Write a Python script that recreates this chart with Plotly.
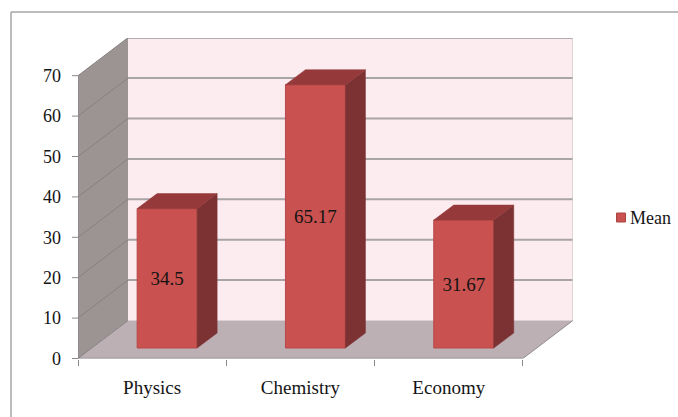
import plotly.graph_objects as go

categories = ["Physics", "Chemistry", "Economy"]
means = [34.5, 65.17, 31.67]
bar_labels = ["34.5", "65.17", "31.67"]
y_ticks = [0, 10, 20, 30, 40, 50, 60, 70]
series_name = "Mean"

W, H = 678, 417
L, R, T, B = 78, 573, 38, 358.5      # pixel box of the plotting area
PX_X = 148.3                         # pixels per category
PX_Y = 4.04                          # pixels per value unit
n = len(categories)
y_max = max(y_ticks)

wall_dx = 50 / PX_X
wall_dy = 38 / PX_Y
bar_dx = 15 / PX_X
bar_dy = 10.5 / PX_Y
bar_w = 60 / PX_X
side_dx = 20 / PX_X
side_dy = 15 / PX_Y

FRONT = "#c9514f"
TOP = "#95393a"
SIDE = "#7c3233"
WALL = "#fcebef"
LEFT = "#9c9393"
FLOOR = "#bcb0b5"
GRID = "#a9a4a6"
AXIS = "#8a8a8a"
TEXT = "#141414"
FONT = "Liberation Serif"

x_range = [0, (R - L) / PX_X]
y_range = [0, (B - T) / PX_Y]

fx = lambda px: px / W
fy = lambda px: 1 - px / H


def poly(xs, ys, color):
    path = "M" + " L".join(f"{x},{y}" for x, y in zip(xs, ys)) + " Z"
    return dict(type="path", path=path, xref="x", yref="y", fillcolor=color,
                line=dict(width=0), layer="below")


def seg(x0, y0, x1, y1, color, width):
    return dict(type="line", x0=x0, y0=y0, x1=x1, y1=y1, xref="x", yref="y",
                line=dict(color=color, width=width), layer="below")


shapes = [
    poly([wall_dx, n + wall_dx, n + wall_dx, wall_dx],
         [wall_dy, wall_dy, y_max + wall_dy, y_max + wall_dy], WALL),
    poly([0, wall_dx, wall_dx, 0], [0, wall_dy, y_max + wall_dy, y_max], LEFT),
    poly([0, n, n + wall_dx, wall_dx], [0, 0, wall_dy, wall_dy], FLOOR),
]
for t in y_ticks[1:]:
    shapes.append(seg(wall_dx, t + wall_dy, n + wall_dx, t + wall_dy, GRID, 2))
    shapes.append(seg(0, t, wall_dx, t + wall_dy, "#868082", 1))
for t in y_ticks:
    # y-axis tick marks: full paper coordinates so they are not clipped
    yp = fy(B - t * PX_Y)
    shapes.append(dict(type="line", xref="paper", yref="paper", x0=fx(L - 6), x1=fx(L),
                       y0=yp, y1=yp, line=dict(color=AXIS, width=1)))
shapes.append(seg(wall_dx, y_max + wall_dy, n + wall_dx, y_max + wall_dy, GRID, 1.5))
shapes.append(seg(n + wall_dx, wall_dy, n + wall_dx, y_max + wall_dy, "#c9c4c6", 1))
shapes.append(seg(0, 0, wall_dx, wall_dy, "#868082", 1))
shapes.append(seg(n, 0, n + wall_dx, wall_dy, "#8f8a8c", 1))
shapes.append(seg(0, 0, n, 0, AXIS, 1.5))
shapes.append(seg(0, 0, 0, y_max, AXIS, 1.5))

# outer chart frame and legend swatch, in paper coordinates
for a, b, c, d in [(11, 12, 11, H), (11, 12, W, 12)]:
    shapes.append(dict(type="line", xref="paper", yref="paper", x0=fx(a), y0=fy(b),
                       x1=fx(c), y1=fy(d), line=dict(color="#a6a6a6", width=1.5)))
shapes.append(dict(type="rect", xref="paper", yref="paper", x0=fx(616.5), x1=fx(625.5),
                   y0=fy(222), y1=fy(213), fillcolor=FRONT,
                   line=dict(color="#a84442", width=1)))

centres = [i + 0.5 + bar_dx for i in range(n)]

fig = go.Figure()
fig.add_trace(go.Bar(
    x=centres, y=means, base=[bar_dy] * n, width=bar_w, name=series_name,
    marker=dict(color=FRONT, line=dict(color="#b84a48", width=1)),
    text=bar_labels, textposition="inside", insidetextanchor="middle", textangle=0,
    insidetextfont=dict(family=FONT, size=19, color=TEXT), showlegend=False,
    hoverinfo="skip",
))
for c, v in zip(centres, means):
    x0, x1 = c - bar_w / 2, c + bar_w / 2
    top = v + bar_dy
    fig.add_trace(go.Scatter(
        x=[x1, x1 + side_dx, x1 + side_dx, x1, x1],
        y=[bar_dy, bar_dy + side_dy, top + side_dy, top, bar_dy],
        mode="lines", fill="toself", fillcolor=SIDE, line=dict(color=SIDE, width=0.5),
        showlegend=False, hoverinfo="skip"))
    fig.add_trace(go.Scatter(
        x=[x0, x1, x1 + side_dx, x0 + side_dx, x0],
        y=[top, top, top + side_dy, top + side_dy, top],
        mode="lines", fill="toself", fillcolor=TOP, line=dict(color=TOP, width=0.5),
        showlegend=False, hoverinfo="skip"))

fig.update_layout(
    width=W, height=H,
    margin=dict(l=0, r=0, t=0, b=0, pad=0, autoexpand=False),
    paper_bgcolor="white", plot_bgcolor="white",
    shapes=shapes,
    font=dict(family=FONT, size=18, color=TEXT),
    xaxis=dict(domain=[L / W, R / W], range=x_range, showgrid=False, zeroline=False,
               showline=False, tickmode="array", tickvals=[i + 0.5 for i in range(n)],
               ticktext=categories, ticks="", ticklen=0, ticklabelstandoff=15,
               tickfont=dict(size=19, color=TEXT),
               minor=dict(tickmode="array", tickvals=list(range(n + 1)), ticks="outside",
                          ticklen=6, tickwidth=1, tickcolor=AXIS, showgrid=False)),
    yaxis=dict(domain=[1 - B / H, 1 - T / H], range=y_range, showgrid=False, zeroline=False,
               showline=False, tickmode="array", tickvals=y_ticks, ticks="",
               ticklabelstandoff=16, tickfont=dict(size=18, color=TEXT)),
    annotations=[dict(text=series_name, xref="paper", yref="paper", x=fx(628), y=fy(217.5),
                      xanchor="left", yanchor="middle", showarrow=False,
                      font=dict(family=FONT, size=18, color=TEXT))],
    showlegend=False,
)

fig.write_html("out.html", config=dict(displayModeBar=False),
               post_script="document.body.style.margin='0';document.body.style.overflow='hidden';")
